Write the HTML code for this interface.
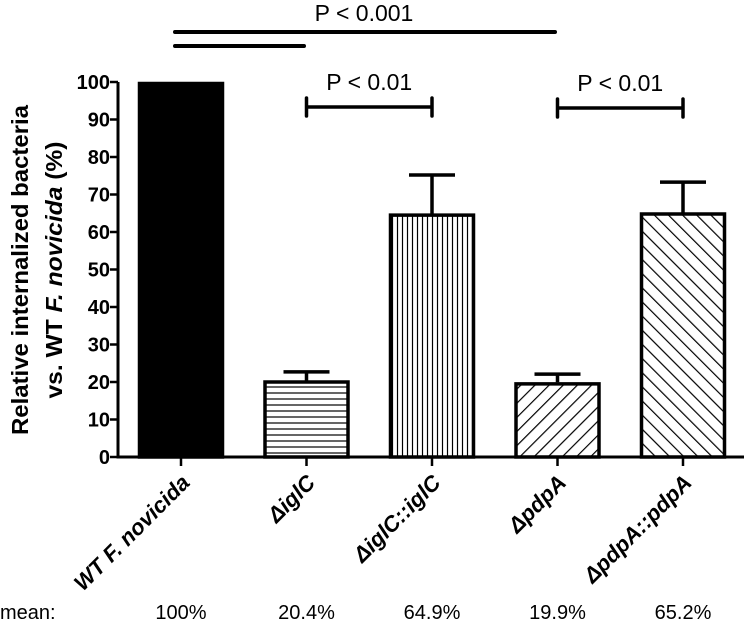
<!DOCTYPE html>
<html><head><meta charset="utf-8"><style>
body{margin:0;background:#fff;}
svg{display:block;font-family:"Liberation Sans",sans-serif;}
</style></head><body>
<svg id="chart" width="746" height="624" viewBox="0 0 746 624">
<defs>
<pattern id="ph" width="8" height="6" patternUnits="userSpaceOnUse"><path d="M0 3H8" stroke="#000" stroke-width="1.2"/></pattern>
<pattern id="pv" width="5" height="8" patternUnits="userSpaceOnUse"><path d="M2.5 0V8" stroke="#000" stroke-width="1.2"/></pattern>
<pattern id="pf" width="10" height="10" patternUnits="userSpaceOnUse" patternTransform="rotate(45)"><path d="M0 0V10" stroke="#000" stroke-width="2.4"/></pattern>
<pattern id="pb" width="10" height="10" patternUnits="userSpaceOnUse" patternTransform="rotate(-45)"><path d="M0 0V10" stroke="#000" stroke-width="2.4"/></pattern>
</defs>
<g id="plot"></g>
</svg>
<script>
const categories = ["WT F. novicida","ΔiglC","ΔiglC::iglC","ΔpdpA","ΔpdpA::pdpA"];
const means = [100, 20.4, 64.9, 19.9, 65.2];
const errTop = [100, 22.7, 75.2, 22.1, 73.3];
const meanLabels = ["100%","20.4%","64.9%","19.9%","65.2%"];
const yTicks = [0,10,20,30,40,50,60,70,80,90,100];
const fills = ["#000","url(#ph)","url(#pv)","url(#pf)","url(#pb)"];

const NS="http://www.w3.org/2000/svg";
const g=document.getElementById('plot');
const x0=118, y0=457, yScale=3.75, step=125.5, firstX=181, barW=86;
const X=i=>firstX+i*step;
const Y=v=>y0-v*yScale;
function mk(tag,attrs,parent){const e=document.createElementNS(NS,tag);for(const k in attrs)e.setAttribute(k,attrs[k]);(parent||g).appendChild(e);return e;}

categories.forEach((c,i)=>{
  const cx=X(i);
  if(i>0){
    const eb=mk('path',{d:`M${cx} ${Y(means[i])}V${Y(errTop[i])}M${cx-23} ${Y(errTop[i])}H${cx+23}`,stroke:'#000','stroke-width':3.5,fill:'none'});
    
    
  }
  const r=mk('rect',{x:cx-barW/2,y:Y(means[i]),width:barW,height:Y(0)-Y(means[i]),fill:'#fff'});
  
  
  const b=mk('rect',{x:cx-barW/2+1.5,y:Y(means[i])+1.5,width:barW-3,height:Y(0)-Y(means[i])-1.5,fill:fills[i],stroke:'#000','stroke-width':3.5});
  
  
  const t=mk('line',{x1:cx,x2:cx,y1:y0,y2:y0+9,stroke:'#000','stroke-width':2.5});
  
  
  const lbl=mk('text',{x:0,y:0,transform:`translate(${cx+10},${y0+27}) rotate(-45)`,'text-anchor':'end','font-size':22,'font-weight':'bold','font-style':'italic'});
  lbl.textContent=c;
  
  
  const m=mk('text',{x:cx,y:619,'text-anchor':'middle','font-size':20});
  m.textContent=meanLabels[i];
  
  
});
const ax=mk('path',{d:`M${x0} ${Y(100)}V${y0}H744`,stroke:'#000','stroke-width':3,fill:'none'});


yTicks.forEach(v=>{
  const t=mk('line',{x1:x0-8,x2:x0,y1:Y(v),y2:Y(v),stroke:'#000','stroke-width':2.5});
  
  
  const l=mk('text',{x:x0-8,y:Y(v)+7,'text-anchor':'end','font-size':20,'font-weight':'bold'});
  l.textContent=v;
  
  
});
const yt=mk('text',{transform:'translate(28,270) rotate(-90)','text-anchor':'middle','font-size':23,'font-weight':'bold'});
yt.innerHTML='<tspan x="0" y="0" textLength="330" lengthAdjust="spacingAndGlyphs">Relative internalized bacteria</tspan><tspan x="0" y="34" textLength="257" lengthAdjust="spacingAndGlyphs">vs. WT <tspan font-style="italic">F. novicida</tspan> (%)</tspan>';


const mn=mk('text',{x:0,y:619,'font-size':20});
mn.textContent='mean:';


const s1=mk('path',{d:'M175 32H555M175 46H304',stroke:'#000','stroke-width':4,'stroke-linecap':'round',fill:'none'});


const p1=mk('text',{x:364,y:21,'text-anchor':'middle','font-size':23});
p1.textContent='P < 0.001';


[[1,2],[3,4]].forEach(([a,b],k)=>{
  const xa=X(a),xb=X(b),yy=107+k;
  const br=mk('path',{d:`M${xa} ${yy}H${xb}M${xa} ${yy-9}V${yy+9}M${xb} ${yy-9}V${yy+9}`,stroke:'#000','stroke-width':3.5,'stroke-linecap':'round',fill:'none'});
  
  
  const t=mk('text',{x:(xa+xb)/2,y:90+k,'text-anchor':'middle','font-size':23});
  t.textContent='P < 0.01';
  
  
});
</script>
</body></html>
